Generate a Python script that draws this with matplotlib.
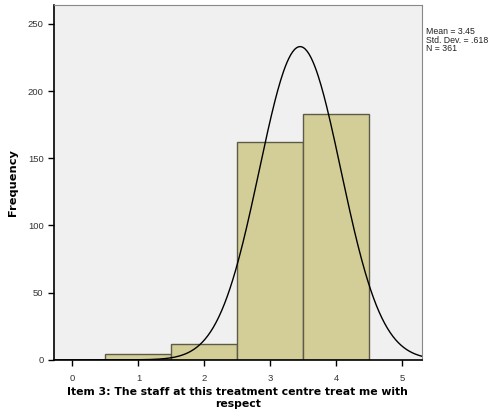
import numpy as np
import matplotlib
matplotlib.use("Agg")
import matplotlib.pyplot as plt

# data
scores = [1, 2, 3, 4]
counts = [4, 12, 162, 183]
mean_v, sd_v, n_v = 3.45, 0.618, 361
stats_txt = "Mean = 3.45\nStd. Dev. = .618\nN = 361"
x_ticks = [0, 1, 2, 3, 4, 5]
y_ticks = [0, 50, 100, 150, 200, 250]

plt.rcParams['font.family'] = ['Liberation Sans', 'DejaVu Sans']

fig = plt.figure(figsize=(5.0, 4.17), dpi=100)
ax = fig.add_axes([0.108, 0.137, 0.735, 0.851])
ax.set_facecolor('#f0f0f0')

ax.bar(scores, counts, width=1.0, color='#d3ce97', edgecolor='#5c5a48', linewidth=1.0, zorder=2)

# normal curve from the printed stats
xs = np.linspace(-0.28, 5.29, 400)
ys = n_v / (sd_v * np.sqrt(2 * np.pi)) * np.exp(-0.5 * ((xs - mean_v) / sd_v) ** 2)
ax.plot(xs, ys, color='black', linewidth=1.0, zorder=3)

ax.set_xlim(-0.28, 5.29)
ax.set_ylim(0, 264)
ax.set_xticks(x_ticks)
ax.set_yticks(y_ticks)
ax.tick_params(labelsize=6.8, labelcolor='#333333', length=4, width=1, direction='out')
ax.tick_params(axis='x', pad=6)

for s in ['top', 'right']:
    ax.spines[s].set_color('#888888')
for s in ['left', 'bottom']:
    ax.spines[s].set_color('black')
    ax.spines[s].set_linewidth(1.2)

ax.set_ylabel('Frequency', fontsize=8.2, fontweight='bold', family='DejaVu Sans', labelpad=7)
ax.set_xlabel('Item 3: The staff at this treatment centre treat me with\nrespect',
              fontsize=7.8, fontweight='bold', family='DejaVu Sans', labelpad=3, linespacing=1.2)

fig.text(0.853, 0.935, stats_txt, fontsize=6.3, va='top', ha='left', color='#222222', linespacing=0.95)

fig.savefig('out.png', dpi=100)
